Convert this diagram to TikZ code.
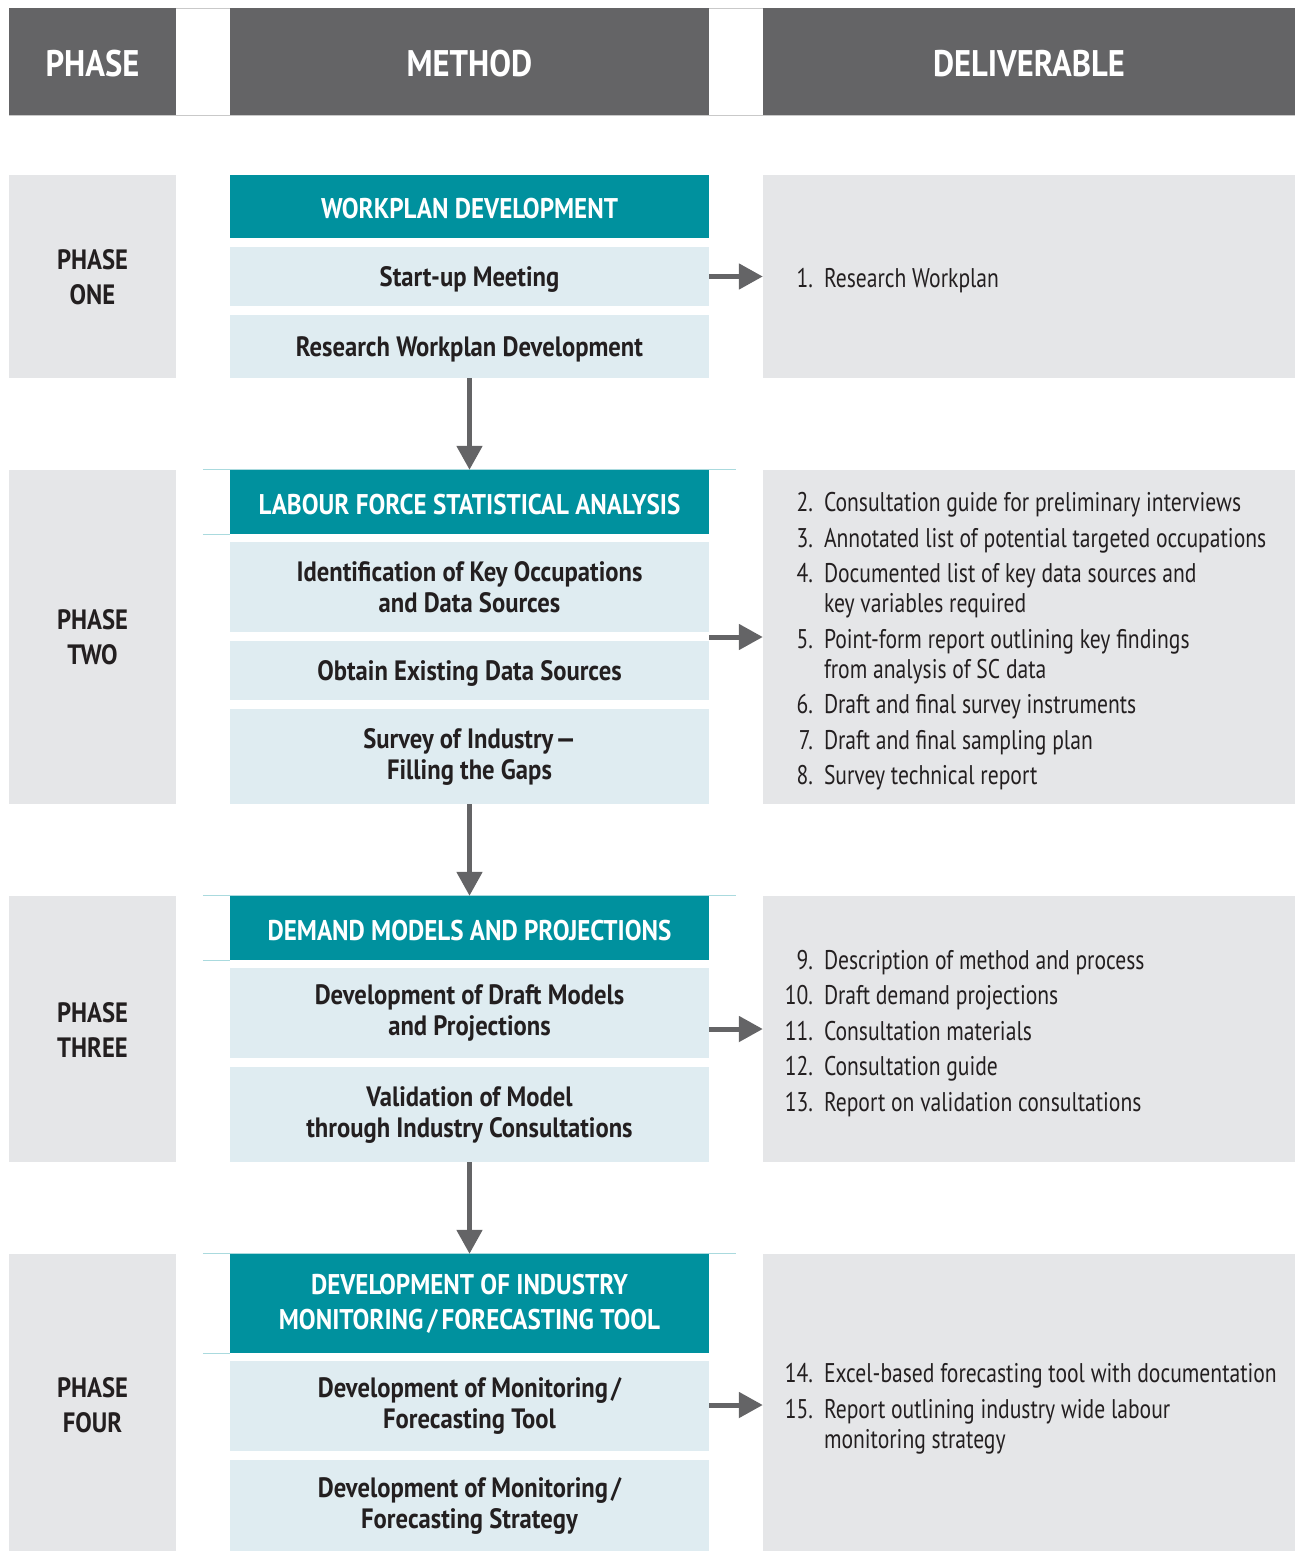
\documentclass[tikz,border=0pt]{standalone}
\usepackage{fontspec}
\setmainfont{PT Sans}[FakeStretch=0.80, BoldFeatures={FakeStretch=0.88}]
\usepackage{array}
\usetikzlibrary{arrows.meta, positioning}

% fixed-width, right-aligned item number
\newcommand{\dnum}[1]{\makebox[38pt][r]{#1}}

\begin{document}
\begin{tikzpicture}[x=1pt, y=-1pt,
    hdrcell/.style={fill=hdrgray, text=white, inner sep=0pt, minimum height=107pt,
        text height=30pt, font=\bfseries\fontsize{37}{40}\selectfont},
    phasecol/.style={fill=panelgray, inner sep=0pt, minimum width=167pt},
    phaselbl/.style={text=inkdark, align=center, inner sep=0pt,
        font=\bfseries\fontsize{28}{35}\selectfont},
    tealbox/.style={fill=tealdark, text=white, align=center, inner sep=0pt, minimum width=479pt,
        font=\bfseries\fontsize{28.5}{35}\selectfont},
    methodbox/.style={fill=paleblue, text=inkdark, align=center, inner sep=0pt, minimum width=479pt,
        font=\bfseries\fontsize{28}{31}\selectfont},
    oneline/.style={text depth=0pt},
    delivbox/.style={fill=panelgray, inner sep=0pt, minimum width=532pt},
    delivlist/.style={anchor=west, inner sep=0pt, text=inkdark,
        font=\fontsize{27}{30}\selectfont},
    flow/.style={draw=hdrgray, line width=5pt, -{Triangle[length=24pt, width=25pt]}},
    rimline/.style={draw=rimteal, line width=1pt}
]

% Define colors - matching the reference image
\definecolor{hdrgray}{RGB}{100,100,102}
\definecolor{panelgray}{RGB}{229,230,232}
\definecolor{tealdark}{RGB}{0,145,158}
\definecolor{paleblue}{RGB}{223,236,241}
\definecolor{inkdark}{RGB}{35,31,32}
\definecolor{rimteal}{RGB}{170,218,222}

% Bounding box = full picture
\useasboundingbox (0,0) rectangle (1297,1551);

% Header row
\draw[hdrgray!35, line width=1pt] (9,8) -- (1295,8) (9,115) -- (1295,115);
\node[hdrcell, minimum width=167pt] (hphase) at (92.5,61.5) {PHASE};
\node[hdrcell, minimum width=479pt] (hmethod) at (469.5,61.5) {METHOD};
\node[hdrcell, minimum width=532pt] (hdeliv) at (1029,61.5) {DELIVERABLE};

% Phase one
\node[phasecol, minimum height=203pt] (p1) at (92.5,276.5) {};
\node[phaselbl] (ph1) at (92.5,277.5) {PHASE\\ONE};
\node[delivbox, minimum height=203pt] (d1) at (1029,276.5) {};
\node[tealbox, minimum height=63pt, text height=25pt] (wp1) at (469.5,206.5) {WORKPLAN DEVELOPMENT};
\node[methodbox, oneline, minimum height=59pt] (su) at (469.5,276.5) {Start-up Meeting};
\node[methodbox, oneline, minimum height=63pt] (rw) at (469.5,346.5) {Research Workplan Development};
\node[delivlist] (l1) at ([xshift=12pt,yshift=-5pt]d1.west) {%
    \begin{tabular}{@{}l@{\hspace{11pt}}l@{}}
    \dnum{1.} & Research Workplan
    \end{tabular}};

% Phase two
\node[phasecol, minimum height=334pt] (p2) at (92.5,637) {};
\node[phaselbl] (ph2) at (92.5,637.5) {PHASE\\TWO};
\node[delivbox, minimum height=334pt] (d2) at (1029,637) {};
\node[tealbox, minimum height=64pt, text height=25pt] (wp2) at (469.5,502) {LABOUR FORCE STATISTICAL ANALYSIS};
\node[methodbox, minimum height=90pt] (id) at (469.5,587) {Identification of Key Occupations\\and Data Sources};
\node[methodbox, oneline, minimum height=59pt] (ob) at (469.5,670.5) {Obtain Existing Data Sources};
\node[methodbox, minimum height=95pt] (sv) at (469.5,756.5) {Survey of Industry\hspace{2pt}—\\Filling the Gaps};
\node[delivlist] (l2) at ([xshift=12pt,yshift=-5pt]d2.west) {%
    \begin{tabular}{@{}l@{\hspace{11pt}}l@{}}
    \dnum{2.} & Consultation guide for preliminary interviews \\[5.5pt]
    \dnum{3.} & Annotated list of potential targeted occupations \\[5.5pt]
    \dnum{4.} & Documented list of key data sources and \\
              & key variables required \\[5.5pt]
    \dnum{5.} & Point-form report outlining key findings \\
              & from analysis of SC data \\[5.5pt]
    \dnum{6.} & Draft and final survey instruments \\[5.5pt]
    \dnum{7.} & Draft and final sampling plan \\[5.5pt]
    \dnum{8.} & Survey technical report
    \end{tabular}};

% Phase three
\node[phasecol, minimum height=266pt] (p3) at (92.5,1029) {};
\node[phaselbl] (ph3) at (92.5,1029.5) {PHASE\\THREE};
\node[delivbox, minimum height=266pt] (d3) at (1029,1029) {};
\node[tealbox, minimum height=64pt, text height=25pt] (wp3) at (469.5,928) {DEMAND MODELS AND PROJECTIONS};
\node[methodbox, minimum height=90pt] (dm) at (469.5,1013) {Development of Draft Models\\and Projections};
\node[methodbox, minimum height=95pt] (vm) at (469.5,1114.5) {Validation of Model\\through Industry Consultations};
\node[delivlist] (l3) at ([xshift=12pt,yshift=-5pt]d3.west) {%
    \begin{tabular}{@{}l@{\hspace{11pt}}l@{}}
    \dnum{9.} & Description of method and process \\[5.5pt]
    \dnum{10.} & Draft demand projections \\[5.5pt]
    \dnum{11.} & Consultation materials \\[5.5pt]
    \dnum{12.} & Consultation guide \\[5.5pt]
    \dnum{13.} & Report on validation consultations
    \end{tabular}};

% Phase four
\node[phasecol, minimum height=297pt] (p4) at (92.5,1402.5) {};
\node[phaselbl] (ph4) at (92.5,1405) {PHASE\\FOUR};
\node[delivbox, minimum height=297pt] (d4) at (1029,1402.5) {};
\node[tealbox, minimum height=99pt] (wp4) at (469.5,1303.5) {DEVELOPMENT OF INDUSTRY\\MONITORING\hspace{4pt}/\hspace{4pt}FORECASTING TOOL};
\node[methodbox, minimum height=90pt] (mt) at (469.5,1406) {Development of Monitoring\hspace{3pt}/\\Forecasting Tool};
\node[methodbox, minimum height=91pt] (ms) at (469.5,1505.5) {Development of Monitoring\hspace{3pt}/\\Forecasting Strategy};
\node[delivlist] (l4) at ([xshift=12pt,yshift=-7pt]d4.west) {%
    \begin{tabular}{@{}l@{\hspace{11pt}}l@{}}
    \dnum{14.} & Excel-based forecasting tool with documentation \\[5.5pt]
    \dnum{15.} & Report outlining industry wide labour \\
               & monitoring strategy
    \end{tabular}};

% Thin rims on the teal headers
\foreach \t in {wp2,wp3,wp4} {
    \draw[rimline] ([xshift=-27pt]\t.north west) -- ([xshift=27pt]\t.north east);
    \draw[rimline] ([xshift=-27pt]\t.south west) -- (\t.south west);
}

% Arrows method -> deliverable
\draw[flow] (d1.west -| wp1.east) -- (d1.west);
\draw[flow] (d2.west -| wp2.east) -- (d2.west);
\draw[flow] (d3.west -| wp3.east) -- (d3.west);
\draw[flow] ([yshift=-2.5pt]d4.west -| wp4.east) -- ([yshift=-2.5pt]d4.west);

% Arrows phase -> phase
\draw[flow] (rw.south) -- (wp2.north);
\draw[flow] (sv.south) -- (wp3.north);
\draw[flow] (vm.south) -- (wp4.north);

\end{tikzpicture}
\end{document}
